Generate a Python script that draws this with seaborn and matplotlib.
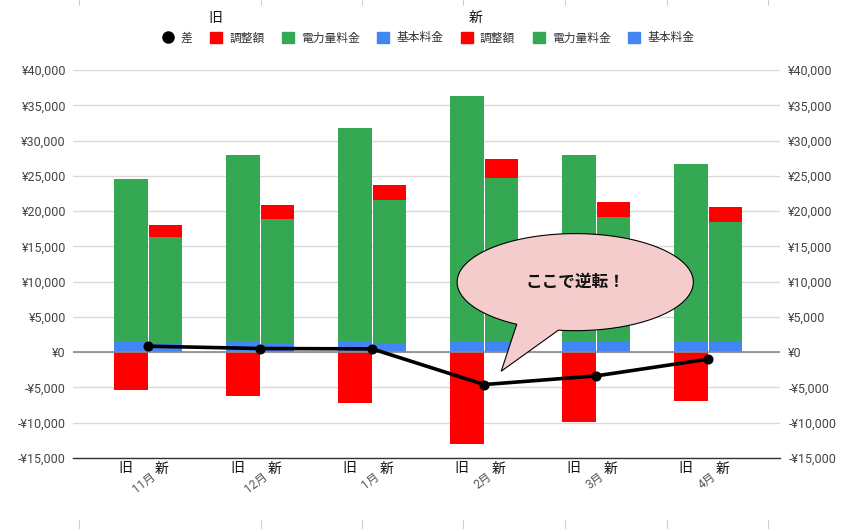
import numpy as np
import matplotlib
matplotlib.use('Agg')
import matplotlib.pyplot as plt
import seaborn as sns
from matplotlib.patches import Patch, Polygon
from matplotlib.lines import Line2D
from matplotlib.ticker import FuncFormatter

# データ
months = ['11月', '12月', '1月', '2月', '3月', '4月']
old_base = [1560, 1560, 1560, 1560, 1560, 1560]
old_energy = [22940, 26440, 30240, 34710, 26440, 25140]
old_adj = [-5390, -6240, -7190, -13050, -9880, -6860]
new_base = [1150, 1150, 1250, 1450, 1450, 1450]
new_energy = [15150, 17720, 20350, 23250, 17700, 16990]
new_adj = [1670, 1980, 2100, 2700, 2150, 2130]
diff = [850, 520, 470, -4590, -3360, -990]

RED = '#ff0000'
GREEN = '#34a853'
BLUE = '#4285f4'

sns.set_theme(style='white')
plt.rcParams['font.family'] = ['Roboto', 'Noto Sans CJK JP', 'DejaVu Sans']

fig = plt.figure(figsize=(8.62, 5.29), dpi=100)
W, H = 862, 529
ax = fig.add_axes([73 / W, 1 - 458 / H, (780 - 73) / W, (458 - 70) / H])

x = np.arange(len(months))
bw = 0.30
xo = x - 0.155
xn = x + 0.155
bar_kw = dict(width=bw, linewidth=0, edgecolor='none', zorder=2)

# 旧
ax.bar(xo, old_base, color=BLUE, **bar_kw)
ax.bar(xo, old_energy, bottom=old_base, color=GREEN, **bar_kw)
ax.bar(xo, old_adj, color=RED, **bar_kw)
# 新
new_top = np.array(new_base) + np.array(new_energy)
ax.bar(xn, new_base, color=BLUE, **bar_kw)
ax.bar(xn, new_energy, bottom=new_base, color=GREEN, **bar_kw)
ax.bar(xn, new_adj, bottom=new_top, color=RED, **bar_kw)

ax.axhline(0, color='#8a8a8a', lw=1.2, zorder=3)

sns.lineplot(x=x, y=diff, ax=ax, color='black', lw=2.6, marker='o',
             markersize=6.5, markeredgecolor='black', zorder=5)

ax.set_xlim(-0.67, 5.64)
ax.set_ylim(-15000, 40000)
ax.set_yticks(np.arange(-15000, 40001, 5000))


def yen(v, pos):
    v = int(round(v))
    return f'-¥{abs(v):,}' if v < 0 else f'¥{v:,}'


ax.yaxis.set_major_formatter(FuncFormatter(yen))
ax.yaxis.grid(True, color='#dadada', lw=1, zorder=0)
ax.xaxis.grid(False)
ax.tick_params(axis='y', length=0, pad=5, labelsize=9, labelcolor='#444444')
ax.set_xticks(x)
ax.set_xticklabels([])
ax.tick_params(axis='x', direction='inout', length=12, width=1, color='#333333')
for s in ['top', 'left', 'right']:
    ax.spines[s].set_visible(False)
ax.spines['bottom'].set_color('#333333')
ax.spines['bottom'].set_linewidth(1)

ax2 = ax.twinx()
ax2.set_ylim(ax.get_ylim())
ax2.set_yticks(ax.get_yticks())
ax2.yaxis.set_major_formatter(FuncFormatter(yen))
ax2.tick_params(axis='y', length=0, pad=6, labelsize=9, labelcolor='#444444')
for s in ax2.spines.values():
    s.set_visible(False)
ax2.grid(False)

# x 軸ラベル
tr = ax.get_xaxis_transform()
for i, m in enumerate(months):
    ax.text(i - 0.205, -0.027, '旧', transform=tr, ha='center', va='center',
            fontsize=10, color='#111111')
    ax.text(i + 0.125, -0.027, '新', transform=tr, ha='center', va='center',
            fontsize=10, color='#111111')
    ax.text(i + 0.05, -0.043, m, transform=tr, ha='right', va='center',
            rotation=38, rotation_mode='anchor', fontsize=8.5, color='#555555')

# 吹き出し
cx, cy, a, b = 3.8125, 9929, 1.054, 6879
t = np.radians(np.linspace(261.8, 600.3, 240))
pts = np.column_stack([cx + a * np.cos(t), cy + b * np.sin(t)])
pts = np.vstack([pts, [3.152, -2695]])
ax.add_patch(Polygon(pts, closed=True, facecolor='#f4cccc', edgecolor='black',
                     lw=0.8, zorder=10))
ax.text(cx, cy, 'ここで逆転！', ha='center', va='center', fontsize=12,
        fontweight='bold', color='#111111', zorder=11)

# 凡例
handles = [Line2D([], [], marker='o', color='black', ls='none', markersize=8),
           Patch(color=RED), Patch(color=GREEN), Patch(color=BLUE),
           Patch(color=RED), Patch(color=GREEN), Patch(color=BLUE)]
labels = ['差', '調整額', '電力量料金', '基本料金', '調整額', '電力量料金', '基本料金']
leg = fig.legend(handles, labels, loc='center', bbox_to_anchor=(428 / W, 1 - 38 / H),
                 ncol=7, frameon=False, fontsize=8.5, handlelength=1.0,
                 handleheight=1.0, handletextpad=0.6, columnspacing=1.5)
for txt in leg.get_texts():
    txt.set_color('#333333')
fig.text(215 / W, 1 - 18 / H, '旧', ha='center', va='center', fontsize=10, color='#111111')
fig.text(476 / W, 1 - 18 / H, '新', ha='center', va='center', fontsize=10, color='#111111')

# シートの罫線
for xp in [79, 261, 362, 463, 565, 667, 768]:
    fig.add_artist(Line2D([xp / W, xp / W], [1, 1 - 5 / H], color='#d0d0d0', lw=0.8))
    fig.add_artist(Line2D([xp / W, xp / W], [1 - 520 / H, 0], color='#d0d0d0', lw=0.8))

fig.savefig('out.png', dpi=100)
